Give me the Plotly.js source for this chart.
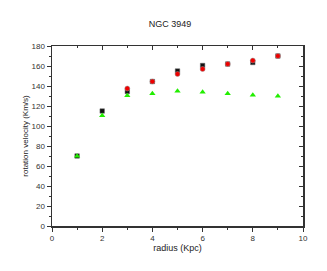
<!DOCTYPE html>
<html><head><meta charset="utf-8">
<script src="https://cdn.plot.ly/plotly-3.0.1.min.js"></script>
<style>html,body{margin:0;padding:0;background:#fff}#chart{width:327px;height:271px}</style>
</head><body><div id="chart"></div>
<script>
const radius = [1, 2, 3, 4, 5, 6, 7, 8, 9];
const velBlack = [70, 115, 134.5, 144.5, 155, 160.5, 162, 163.5, 170];
const radiusRed = [3, 4, 5, 6, 7, 8, 9];
const velRed = [137.5, 144.5, 152, 157, 162, 165.5, 170];
const velGreen = [70, 110.5, 130.5, 132.5, 135, 134, 132.5, 131, 130];

const font = {family: 'Liberation Sans, Arial, sans-serif', color: '#222'};
const traces = [
  {x: radius, y: velBlack, mode: 'markers', type: 'scatter',
   marker: {symbol: 'square', size: 4.5, color: '#111', line: {color: '#666', width: 0.5}}},
  {x: radiusRed, y: velRed, mode: 'markers', type: 'scatter',
   marker: {symbol: 'circle', size: 5, color: '#ee0000', line: {color: '#999', width: 0.5}}},
  {x: radius, y: velGreen, mode: 'markers', type: 'scatter',
   marker: {symbol: 'triangle-up', size: 5.5, color: '#22ee00', line: {width: 0}}},
  {x: [], y: [], xaxis: 'x2', yaxis: 'y2', type: 'scatter', mode: 'markers', showlegend: false}
];
const axCommon = {showgrid: false, zeroline: false, showline: true, linecolor: '#333', linewidth: 1.5,
  tickcolor: '#333', tickwidth: 1, ticklen: 4, tickfont: {size: 8, family: font.family, color: '#333'}};
const layout = {
  width: 327, height: 271, showlegend: false,
  paper_bgcolor: '#fff', plot_bgcolor: '#fff',
  margin: {l: 52, r: 24, t: 46, b: 45},
  font: font,
  title: {text: 'NGC 3949', font: {size: 9, family: font.family, color: '#222'}, x: 0.52, xanchor: 'center', y: 0.912, yanchor: 'middle'},
  xaxis: Object.assign({}, axCommon, {range: [0, 10], tickmode: 'linear', tick0: 0, dtick: 2, ticks: 'outside',
    minor: {dtick: 1, ticks: 'outside', ticklen: 2, tickcolor: '#333'},
    title: {text: 'radius (Kpc)', font: {size: 9, family: font.family, color: '#222'}, standoff: 2}}),
  yaxis: Object.assign({}, axCommon, {range: [0, 180], tickmode: 'linear', tick0: 0, dtick: 20, ticks: 'outside',
    minor: {dtick: 10, ticks: 'outside', ticklen: 2, tickcolor: '#333'},
    title: {text: 'rotation velocity (Km/s)', font: {size: 8, family: font.family, color: '#222'}, standoff: 1}}),
  xaxis2: Object.assign({}, axCommon, {overlaying: 'x', side: 'top', anchor: 'y2', range: [0, 10], tickmode: 'linear', tick0: 0, dtick: 2,
    ticks: 'inside', showticklabels: false, minor: {dtick: 1, ticks: 'inside', ticklen: 2, tickcolor: '#333'}}),
  yaxis2: Object.assign({}, axCommon, {overlaying: 'y', side: 'right', anchor: 'x2', range: [0, 180], tickmode: 'linear', tick0: 0, dtick: 20,
    ticks: 'inside', showticklabels: false, minor: {dtick: 10, ticks: 'inside', ticklen: 2, tickcolor: '#333'}})
};
Plotly.newPlot('chart', traces, layout, {staticPlot: true});
</script></body></html>
